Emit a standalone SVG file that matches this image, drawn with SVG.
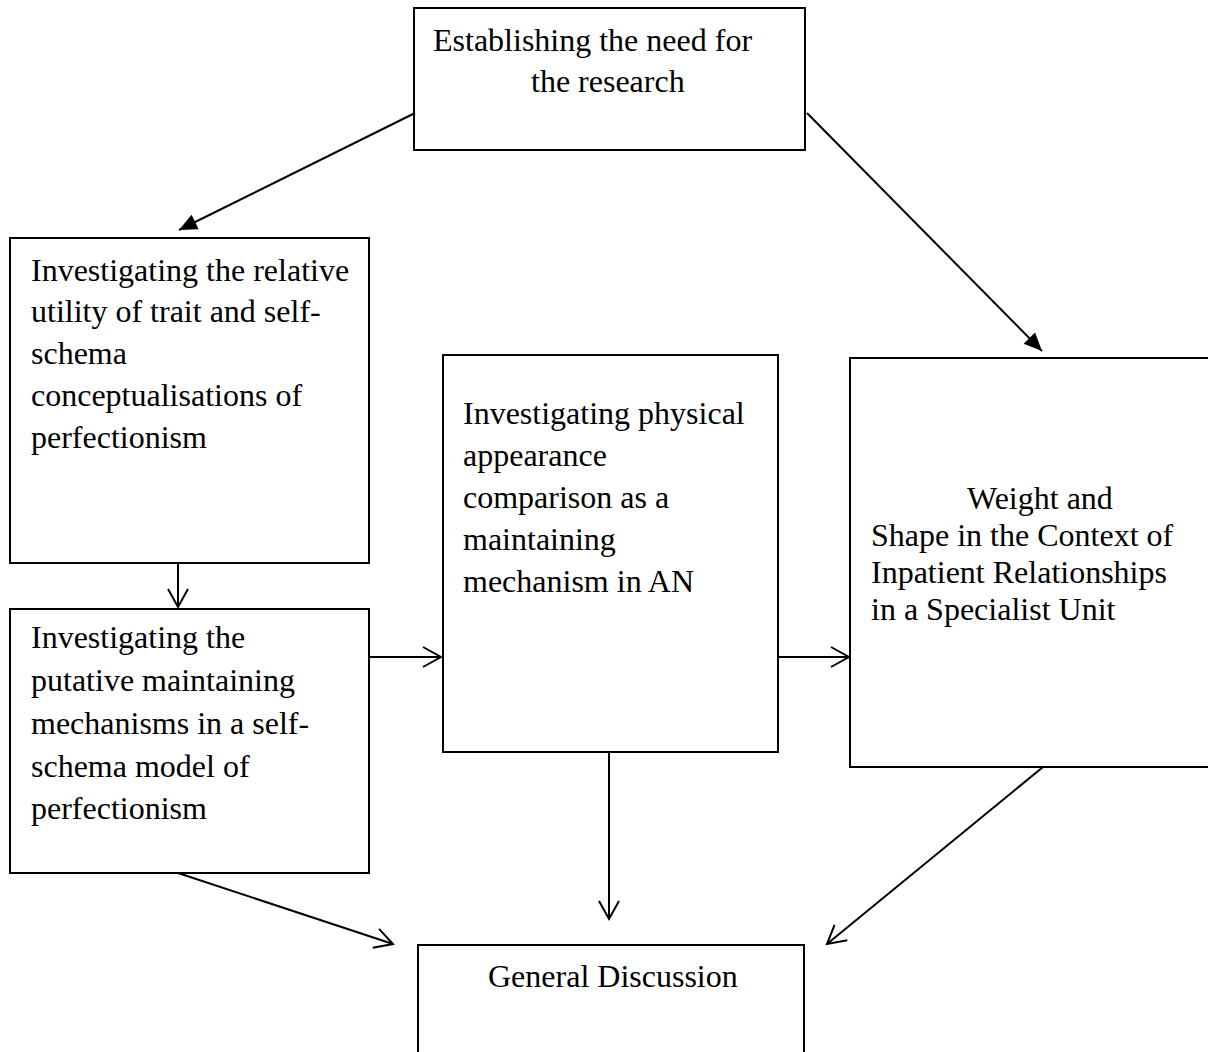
<svg xmlns="http://www.w3.org/2000/svg" width="1208" height="1052" viewBox="0 0 1208 1052">
<style>
.box{fill:#fff;stroke:#000;stroke-width:2}
.t{font-family:"Liberation Serif","Times New Roman",serif;font-size:32px;fill:#000}
.c{stroke:#000;stroke-width:2;fill:none}
</style>
<defs>
<marker id="open" markerUnits="userSpaceOnUse" markerWidth="24" markerHeight="24" viewBox="-20 -12 22 24" refX="0" refY="0" orient="auto">
<path d="M-18,-10 L0,0 L-18,10" fill="none" stroke="#000" stroke-width="2"/>
</marker>
<marker id="filled" markerUnits="userSpaceOnUse" markerWidth="24" markerHeight="24" viewBox="-20 -12 22 24" refX="0" refY="0" orient="auto">
<path d="M0,0 L-18,-8 L-18,8 Z" fill="#000"/>
</marker>
</defs>
<rect width="1208" height="1052" fill="#fff"/>
<g id="n-need">
<rect class="box" x="414" y="8" width="391" height="142"/>
<text class="t" x="433" y="51">Establishing the need for</text>
<text class="t" x="531" y="92">the research</text>
</g>
<g id="n-trait">
<rect class="box" x="10" y="238" width="359" height="325"/>
<text class="t" x="31" y="281">Investigating the relative</text>
<text class="t" x="31" y="322">utility of trait and self-</text>
<text class="t" x="31" y="364">schema</text>
<text class="t" x="31" y="406">conceptualisations of</text>
<text class="t" x="31" y="448">perfectionism</text>
</g>
<g id="n-putative">
<rect class="box" x="10" y="609" width="359" height="264"/>
<text class="t" x="31" y="648">Investigating the</text>
<text class="t" x="31" y="691">putative maintaining</text>
<text class="t" x="31" y="734">mechanisms in a self-</text>
<text class="t" x="31" y="777">schema model of</text>
<text class="t" x="31" y="819">perfectionism</text>
</g>
<g id="n-appearance">
<rect class="box" x="443" y="355" width="335" height="397"/>
<text class="t" x="463" y="424">Investigating physical</text>
<text class="t" x="463" y="466">appearance</text>
<text class="t" x="463" y="508">comparison as a</text>
<text class="t" x="463" y="550">maintaining</text>
<text class="t" x="463" y="592">mechanism in AN</text>
</g>
<g id="n-weight">
<rect class="box" x="850" y="358" width="400" height="409"/>
<text class="t" x="967" y="509">Weight and</text>
<text class="t" x="871" y="546">Shape in the Context of</text>
<text class="t" x="871" y="583">Inpatient Relationships</text>
<text class="t" x="871" y="620">in a Specialist Unit</text>
</g>
<g id="n-general">
<rect class="box" x="418" y="945" width="386" height="130"/>
<text class="t" x="488" y="987">General Discussion</text>
</g>
<g id="connectors">
<line class="c" x1="415" y1="113" x2="179" y2="230" marker-end="url(#filled)"/>
<line class="c" x1="807" y1="113" x2="1042" y2="351" marker-end="url(#filled)"/>
<line class="c" x1="178" y1="563" x2="178" y2="607" marker-end="url(#open)"/>
<line class="c" x1="370" y1="657" x2="441" y2="657" marker-end="url(#open)"/>
<line class="c" x1="779" y1="657" x2="849" y2="657" marker-end="url(#open)"/>
<line class="c" x1="609" y1="752" x2="609" y2="919" marker-end="url(#open)"/>
<line class="c" x1="178" y1="873" x2="393" y2="944" marker-end="url(#open)"/>
<line class="c" x1="1043" y1="767" x2="827" y2="944" marker-end="url(#open)"/>
</g>
</svg>
